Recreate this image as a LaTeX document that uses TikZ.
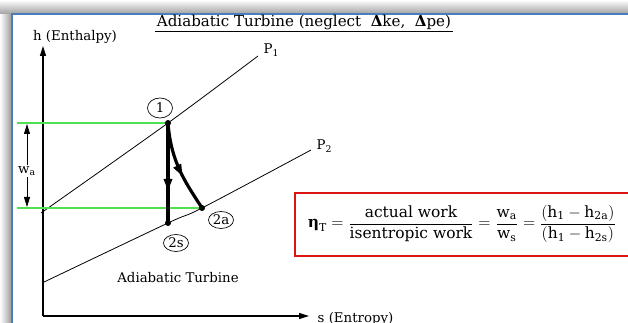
\documentclass[tikz,border=0pt]{standalone}
\usepackage{fontspec}
\setmainfont{DejaVu Serif}
\usepackage{amsmath}
\usetikzlibrary{arrows.meta,decorations.markings,shapes.geometric}

\definecolor{framegray}{RGB}{160,160,160}
\definecolor{frameblue}{RGB}{74,126,187}
\definecolor{levelgreen}{RGB}{80,225,80}
\definecolor{boxred}{RGB}{220,20,20}

\newcommand{\lowtxt}[1]{$_{\text{#1}}$}

\tikzset{
  tip/.style={-{Triangle[length=7.5pt,width=4.5pt]}},
  axisline/.style={line width=0.9pt},
  isobar/.style={line width=0.6pt},
  level/.style={draw=levelgreen, line width=1.1pt},
  process/.style={line width=2.4pt, postaction={decorate},
    decoration={markings, mark=at position #1 with {\arrow{Triangle[length=9pt,width=6pt]}}}},
  process/.default=0.6,
  statelabel/.style={draw, ellipse, line width=0.5pt, inner sep=0pt,
    minimum width=18.75pt, minimum height=12.75pt},
  dot/.style={circle, fill, inner sep=0pt, minimum size=4.5pt}
}

\begin{document}
\begin{tikzpicture}[x=0.75pt, y=-0.75pt, font=\fontsize{10}{12}\selectfont]
    \useasboundingbox (0,0) rectangle (628,323);

    % Fensterrahmen
    \shade[left color=white, right color=framegray] (0,14) rectangle (11,323);
    \shade[top color=white, bottom color=framegray] (0,0) rectangle (628,14);
    \fill[white] (12,15) rectangle (628,323);
    \draw[frameblue, line width=1.5pt] (11.5,323) -- (11.5,14.5) -- (628,14.5);

    % Titel
    \node[inner sep=1.5pt, font=\fontsize{11.3}{13}\selectfont] (title) at (304,22)
        {Adiabatic Turbine (neglect \ \textbf{Δ}ke, \ \textbf{Δ}pe)};
    \draw[line width=0.6pt] (title.south west) -- (title.south east);

    % Achsen
    \coordinate (O) at (43,316);
    \coordinate (htop) at (43,46);
    \coordinate (send) at (309,316);
    \draw[axisline, tip] (O) -- (htop);
    \draw[axisline, tip] (O) -- (send);
    \node (hlab) at (75,37) {h (Enthalpy)};
    \node[anchor=west] (slab) at (313,319) {s (Entropy)};

    % Zustaende
    \coordinate (s1) at (168,123);
    \coordinate (s2s) at (168,223);
    \coordinate (s2a) at (202,208);

    % Isobaren P1, P2
    \draw[isobar] plot[smooth] coordinates {(41,213) (s1) (258,56)};
    \node[anchor=west] (p1lab) at (259,50) {P\lowtxt{1}};
    \draw[isobar] plot[smooth] coordinates {(42,283) (s2s) (s2a) (311,150)};
    \node[anchor=west] (p2lab) at (312,146) {P\lowtxt{2}};

    % Enthalpieniveaus
    \coordinate (g1) at (17,123);
    \coordinate (g2) at (17,208);
    \draw[level] (g1) -- (s1);
    \draw[level] (g2) -- (s2a);

    % Arbeit w_a
    \node[inner sep=1pt] (wa) at (27,171) {w\lowtxt{a}};
    \coordinate (watop) at (27,124);
    \coordinate (wabot) at (27,207);
    \draw[tip, line width=0.6pt] (wa.north) -- (watop);
    \draw[tip, line width=0.6pt] (wa.south) -- (wabot);

    % Expansion 1-2s und 1-2a
    \draw[process=0.68] (s1) -- (s2s);
    \draw[process=0.6] (s1) .. controls (171,163) and (186,183) .. (s2a);
    \node[dot] (d1) at (s1) {};
    \node[dot] (d2s) at (s2s) {};
    \node[dot] (d2a) at (s2a) {};

    \node[statelabel, minimum height=15pt] (l1) at (160,108) {1};
    \node[statelabel] (l2s) at (176,243) {2s};
    \node[statelabel] (l2a) at (221,220) {2a};

    \node (turb) at (178,278) {Adiabatic Turbine};

    % Wirkungsgrad
    \begin{scope}
      \clip (0,0) rectangle (628,323);
      \draw[boxred, line width=1.6pt] (295,193) rectangle (640,256);
    \end{scope}
    \node[font=\fontsize{11.6}{14}\selectfont] (eff) at (462,224)
      {$\text{\bfseries η}_{\text{T}} = \dfrac{\text{actual work}}{\text{isentropic work}}
        = \dfrac{\text{w}_{\text{a}}}{\text{w}_{\text{s}}}
        = \dfrac{(\text{h}_{\text{1}} - \text{h}_{\text{2a}})}{(\text{h}_{\text{1}} - \text{h}_{\text{2s}})}$};
\end{tikzpicture}
\end{document}
